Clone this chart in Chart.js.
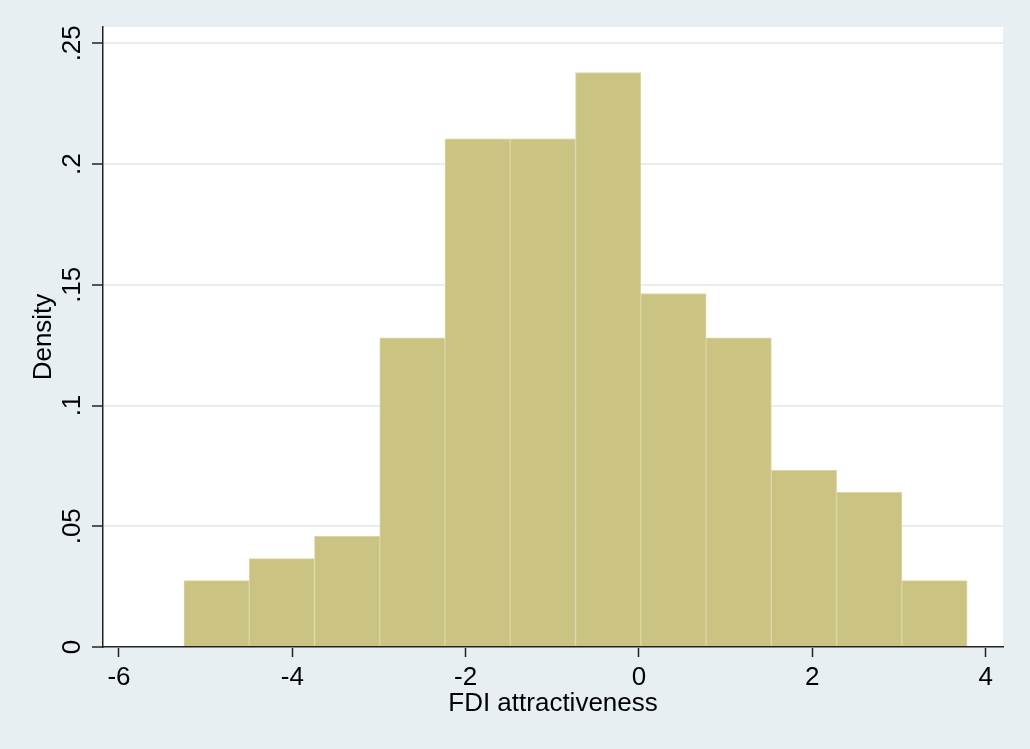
<!DOCTYPE html>
<html>
<head>
<meta charset="utf-8">
<script src="https://cdn.jsdelivr.net/npm/chart.js@4.4.1/dist/chart.umd.min.js"></script>
<style>
  html, body { margin: 0; padding: 0; background: #e8eff2; }
  canvas { display: block; }
</style>
</head>
<body>
<canvas id="histCanvas" width="1030" height="749"></canvas>
<script>
// histogram bins (edges) and densities
const binEdges = [-5.25, -4.497, -3.744, -2.991, -2.238, -1.485, -0.732, 0.021, 0.774, 1.527, 2.28, 3.033, 3.786];
const densities = [0.0275, 0.0366, 0.0458, 0.128, 0.2104, 0.2104, 0.2379, 0.1464, 0.128, 0.0732, 0.064, 0.0275];
const xTicks = [-6, -4, -2, 0, 2, 4];
const yTicks = [0, 0.05, 0.1, 0.15, 0.2, 0.25];
const yTickLabels = ["0", ".05", ".1", ".15", ".2", ".25"];
const xTitle = "FDI attractiveness";
const yTitle = "Density";

const points = densities.map((d, i) => ({ x: (binEdges[i] + binEdges[i + 1]) / 2, y: d }));

const bgPlugin = {
    id: "stataBg",
    beforeDraw(chart) {
        const c = chart.ctx;
        const a = chart.chartArea;
        c.save();
        c.fillStyle = "#e8eff2";
        c.fillRect(0, 0, chart.width, chart.height);
        c.fillStyle = "#ffffff";
        c.fillRect(a.left, a.top, a.right - a.left, a.bottom - a.top);
        c.restore();
    }
};

const font = { family: "'Liberation Sans', Arial, sans-serif", size: 26 };

const config = {
    type: "bar",
    data: {
        datasets: [{
            label: yTitle,
            data: points,
            backgroundColor: "#cbc382",
            borderColor: "#ddd6a2",
            borderWidth: 1,
            barPercentage: 1,
            categoryPercentage: 1,
        }]
    },
    options: {
        responsive: false,
        animation: false,
        layout: { padding: { top: 27, right: 27, left: 0, bottom: 0 } },
        plugins: { legend: { display: false }, tooltip: { enabled: false } },
        scales: {
            x: {
                type: "linear",
                offset: false,
                min: -6.184,
                max: 4.2,
                afterBuildTicks(scale) { scale.ticks = xTicks.map(v => ({ value: v })); },
                afterFit(scale) { scale.height = 102; },
                grid: { offset: false, drawOnChartArea: false, tickLength: 10, tickColor: "#222", tickWidth: 1.5 },
                border: { color: "#222", width: 1.5, z: 1 },
                ticks: { color: "#000", font: font, padding: 5, maxRotation: 0,
                    callback: v => String(v) },
                title: { display: true, text: xTitle, color: "#000", font: font, padding: { top: 0, bottom: 30 } }
            },
            y: {
                min: 0,
                max: 0.25675,
                afterBuildTicks(scale) { scale.ticks = yTicks.map(v => ({ value: v })); },
                afterFit(scale) { scale.width = 103; },
                grid: { color: "#e6eef1", lineWidth: 2, tickLength: 11, tickColor: "#222", tickWidth: 1.5 },
                border: { color: "#222", width: 1.5 },
                ticks: { color: "#000", font: font, padding: 1, minRotation: 90, maxRotation: 90,
                    crossAlign: "center",
                    callback: v => yTickLabels[yTicks.indexOf(v)] },
                title: { display: true, text: yTitle, color: "#000", font: font, padding: { top: 28, bottom: 0 } }
            }
        }
    },
    plugins: [bgPlugin]
};

new Chart(document.getElementById("histCanvas").getContext("2d"), config);
</script>
</body>
</html>
